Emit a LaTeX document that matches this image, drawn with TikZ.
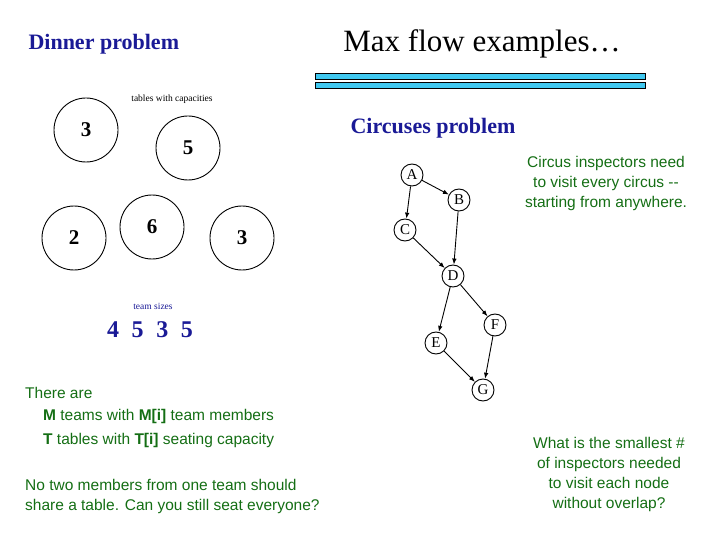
\documentclass[tikz,border=0pt]{standalone}
\usepackage{fontspec}
\setmainfont{Liberation Serif}
\newfontfamily\sansfont{Liberation Sans}
\usetikzlibrary{arrows.meta}
\definecolor{navy}{RGB}{26,26,150}
\definecolor{leaf}{RGB}{20,110,20}
\definecolor{barblue}{RGB}{64,200,240}
\begin{document}
\begin{tikzpicture}[x=1pt, y=-1pt,
     table/.style={draw, line width=0.9pt, circle, minimum size=64pt, inner sep=0pt,
       font=\fontsize{21}{21}\selectfont\bfseries},
     circus/.style={draw, line width=0.9pt, circle, minimum size=22pt, inner sep=0pt,
       font=\fontsize{15}{15}\selectfont},
     flow/.style={-{Latex[length=6pt]}, line width=0.9pt},
     note/.style={text=leaf, font=\sansfont\fontsize{15.5}{20}\selectfont, inner sep=0pt},
     heading/.style={text=navy, font=\fontsize{22}{22}\selectfont\bfseries}]
\useasboundingbox (0,0) rectangle (720,540);
% titles
\node[heading, anchor=west] (dinner) at (25,44) {Dinner problem};
\node[font=\fontsize{31}{31}\selectfont] (title) at (482,44) {Max flow examples\ldots};
\draw[fill=barblue, line width=0.8pt] (315,73) rectangle (645,79);
\draw[fill=barblue, line width=0.8pt] (315,82) rectangle (645,88);
% dinner tables
\node[font=\fontsize{9.5}{9.5}\selectfont] (caps) at (172,99) {tables with capacities};
\node[table] (t1) at (86,130) {3};
\node[table] (t2) at (188,148) {5};
\node[table] (t3) at (74,238) {2};
\node[table] (t4) at (152,227) {6};
\node[table] (t5) at (242,238) {3};
\node[text=navy, font=\fontsize{9.5}{9.5}\selectfont] (teams) at (153,306) {team sizes};
\node[text=navy, font=\fontsize{24}{24}\selectfont\bfseries] (sizes) at (150,330) {4\; 5\; 3\; 5};
\node[note, anchor=west] (there) at (25,393) {There are};
\node[note, anchor=west] (mline) at (43,416) {\textbf{M} teams with \textbf{M[i]} team members};
\node[note, anchor=west] (tline) at (43,440) {\textbf{T} tables with \textbf{T[i]} seating capacity};
\node[note, anchor=north west, align=left] (rule) at (25,479)
  {No two members from one team should\\share a table. Can you still seat everyone?};
% circuses
\node[heading] (circuses) at (433,128) {Circuses problem};
\node[note, align=center] (inspect) at (606,183)
  {Circus inspectors need\\to visit every circus --\\starting from anywhere.};
\node[circus] (A) at (412,175) {A};
\node[circus] (B) at (459,200) {B};
\node[circus] (C) at (405,230) {C};
\node[circus] (D) at (453,276) {D};
\node[circus] (E) at (436,343) {E};
\node[circus] (F) at (495,325) {F};
\node[circus] (G) at (483,390) {G};
\foreach \from/\to in {A/B, A/C, B/D, C/D, D/E, D/F, E/G, F/G}
  \draw[flow] (\from) -- (\to);
\node[note, align=center] (question) at (609,474)
  {What is the smallest \#\\of inspectors needed\\to visit each node\\without overlap?};
\end{tikzpicture}
\end{document}
